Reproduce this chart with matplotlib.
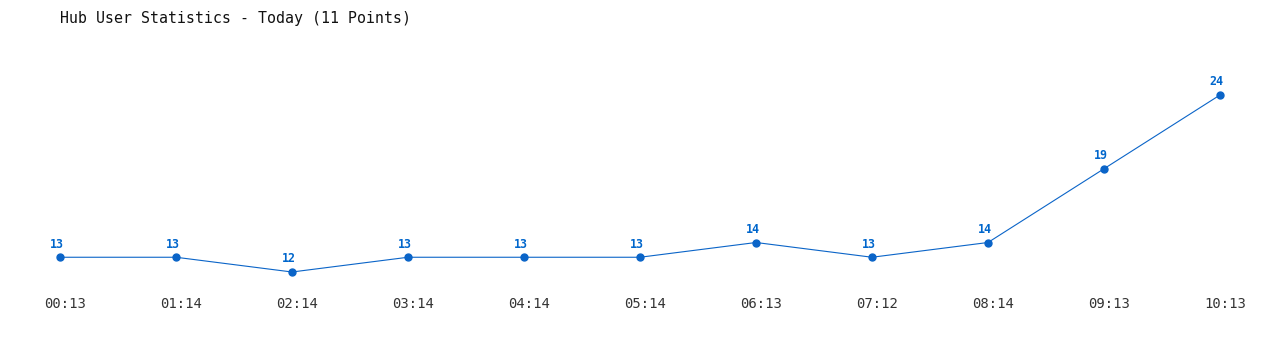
import matplotlib.pyplot as plt

times = ['00:13', '01:14', '02:14', '03:14', '04:14', '05:14',
         '06:13', '07:12', '08:14', '09:13', '10:13']
users = [13, 13, 12, 13, 13, 13, 14, 13, 14, 19, 24]

plt.rcParams['font.family'] = 'DejaVu Sans Mono'

fig = plt.figure(figsize=(12.8, 3.5), dpi=100)
# axes placed so the first/last points and y=12..24 land where the reference has them
ax = fig.add_axes([60 / 1280, 1 - 272 / 350, 1160 / 1280, 177 / 350])
x = list(range(len(users)))
ax.plot(x, users, color='#0a64c8', linewidth=0.8, marker='o',
        markersize=5, clip_on=False)
ax.set_xlim(0, len(users) - 1)
ax.set_ylim(12, 24)

for xi, v in zip(x, users):
    ax.annotate(str(v), (xi, v), xytext=(-2.6, 7), textcoords='offset points',
                ha='center', va='baseline', fontsize=8.4, fontweight='bold',
                color='#0066cc')

ax.set_xticks(x)
ax.set_xticklabels(times, fontsize=10, color='#333333')
for lab in ax.get_xticklabels():
    lab.set_x(lab.get_position()[0])
ax.set_yticks([])
ax.tick_params(axis='x', length=0, pad=18)
# shift tick labels a little to the right like the reference
import matplotlib.transforms as mtransforms
offset = mtransforms.ScaledTranslation(5 / 100, 0, fig.dpi_scale_trans)
for lab in ax.get_xticklabels():
    lab.set_transform(lab.get_transform() + offset)
for s in ax.spines.values():
    s.set_visible(False)

fig.text(60 / 1280, 1 - 18 / 350, 'Hub User Statistics - Today (11 Points)',
         fontsize=10.7, color='#111111', va='center', ha='left')

fig.savefig('out.png', dpi=100)
